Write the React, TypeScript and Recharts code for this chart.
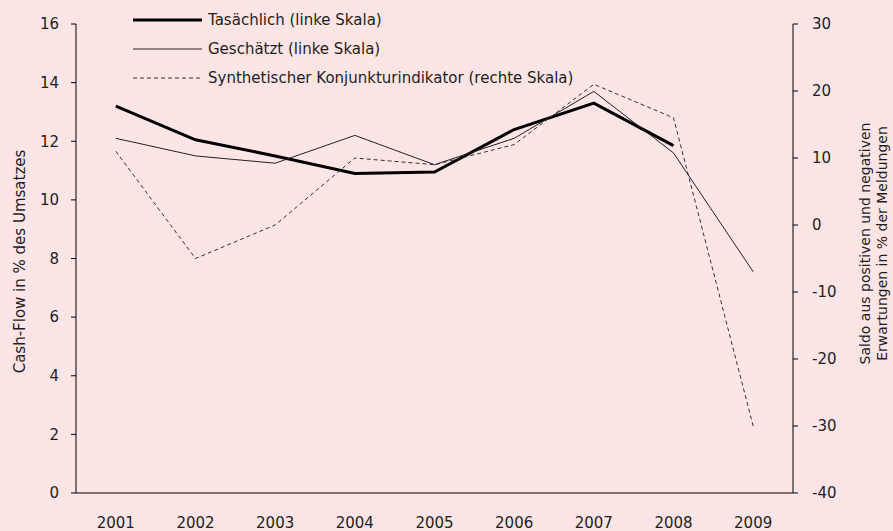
import React from 'react';
import { LineChart, Line, XAxis, YAxis, Legend, Label } from 'recharts';

const years = ['2001', '2002', '2003', '2004', '2005', '2006', '2007', '2008', '2009'];
const actual = [13.2, 12.05, 11.5, 10.9, 10.95, 12.4, 13.3, 11.85, null];
const estimated = [12.1, 11.5, 11.25, 12.2, 11.2, 12.1, 13.7, 11.6, 7.55];
const indicator = [11, -5, 0, 10, 9, 12, 21, 16, -30];

const leftTicks = [0, 2, 4, 6, 8, 10, 12, 14, 16];
const rightTicks = [-40, -30, -20, -10, 0, 10, 20, 30];

const seriesNames: Record<string, string> = {
    actual: 'Tasächlich (linke Skala)',
    estimated: 'Geschätzt (linke Skala)',
    indicator: 'Synthetischer Konjunkturindikator (rechte Skala)',
};

const data = years.map((year, i) => ({
    x: i + 1,
    year,
    actual: actual[i],
    estimated: estimated[i],
    indicator: indicator[i],
}));

// year labels at band centers, tick marks at band edges
const yearTicks = years.map((_, i) => i + 1);
const edgeTicks = [0.5, ...years.map((_, i) => i + 1.5)];

const FONT = '"DejaVu Sans", sans-serif';
const BG = '#fde4e5';
const TEXT = '#1e1e1e';

const lineStyles: Record<string, { width: number; dash?: string; color: string }> = {
    actual: { width: 3, color: '#000' },
    estimated: { width: 1, color: '#222' },
    indicator: { width: 1, dash: '4 3', color: '#333' },
};

function AxisTitle(props: any) {
    const { viewBox, lines, offsets, shiftY = 0, size = 15 } = props;
    const cy = viewBox.y + viewBox.height / 2 + shiftY;
    return (
        <g>
            {lines.map((t: string, i: number) => {
                const cx = viewBox.x + offsets[i];
                return (
                    <text
                        key={t}
                        x={cx}
                        y={cy}
                        transform={`rotate(-90, ${cx}, ${cy})`}
                        textAnchor="middle"
                        dominantBaseline="central"
                        fontSize={size}
                        fill={TEXT}
                        stroke="none"
                        fontFamily={FONT}
                    >
                        {t}
                    </text>
                );
            })}
        </g>
    );
}

function LegendBox() {
    return (
        <div style={{ fontFamily: FONT, fontSize: 15, color: TEXT }}>
            {Object.keys(seriesNames).map((key) => {
                const s = lineStyles[key];
                return (
                    <div key={key} style={{ display: 'flex', alignItems: 'center', height: 29 }}>
                        <svg width={69} height={10} style={{ marginRight: 6 }}>
                            <line x1={0} y1={5} x2={69} y2={5} stroke={s.color} strokeWidth={s.width} strokeDasharray={s.dash} />
                        </svg>
                        <span style={{ whiteSpace: 'nowrap' }}>{seriesNames[key]}</span>
                    </div>
                );
            })}
        </div>
    );
}

export default function App() {
    return (
        <div style={{ position: 'absolute', left: 0, top: 0, width: 893, height: 531, background: BG, fontFamily: FONT }}>
            <LineChart width={893} height={531} data={data} margin={{ top: 24, right: 0, bottom: 0, left: 0 }}>
                <XAxis
                    xAxisId="edges"
                    dataKey="x"
                    type="number"
                    domain={[0.5, 9.5]}
                    ticks={edgeTicks}
                    interval={0}
                    height={0}
                    tick={false}
                    tickSize={5}
                    axisLine={false}
                    stroke="#000"
                />
                <XAxis
                    xAxisId="main"
                    dataKey="x"
                    type="number"
                    domain={[0.5, 9.5]}
                    ticks={yearTicks}
                    interval={0}
                    height={38}
                    tickLine={false}
                    tickSize={0}
                    tickMargin={24}
                    tickFormatter={(v: number) => years[v - 1]}
                    tick={{ fill: TEXT, fontSize: 15, fontFamily: FONT, stroke: 'none' }}
                    stroke="#000"
                />
                <YAxis
                    yAxisId="left"
                    domain={[0, 16]}
                    ticks={leftTicks}
                    width={76}
                    tickSize={5}
                    tickMargin={12}
                    stroke="#000"
                    tick={{ fill: TEXT, fontSize: 15, fontFamily: FONT, stroke: 'none' }}
                >
                    <Label content={<AxisTitle lines={['Cash-Flow in % des Umsatzes']} offsets={[20]} shiftY={3} />} />
                </YAxis>
                <YAxis
                    yAxisId="right"
                    orientation="right"
                    domain={[-40, 30]}
                    ticks={rightTicks}
                    width={100}
                    tickSize={5}
                    tickMargin={14}
                    stroke="#000"
                    tick={{ fill: TEXT, fontSize: 15, fontFamily: FONT, stroke: 'none' }}
                >
                    <Label
                        content={
                            <AxisTitle
                                lines={['Saldo aus positiven und negativen', 'Erwartungen in % der Meldungen']}
                                offsets={[72, 89]}
                                shiftY={-15}
                                size={14}
                            />
                        }
                    />
                </YAxis>
                <Legend
                    layout="vertical"
                    align="center"
                    verticalAlign="middle"
                    content={<LegendBox />}
                    wrapperStyle={{ left: 133, top: 5, width: 520, height: 90 }}
                />
                <Line
                    xAxisId="main"
                    yAxisId="left"
                    dataKey="actual"
                    name={seriesNames.actual}
                    stroke={lineStyles.actual.color}
                    strokeWidth={lineStyles.actual.width}
                    dot={false}
                    activeDot={false}
                    isAnimationActive={false}
                />
                <Line
                    xAxisId="main"
                    yAxisId="left"
                    dataKey="estimated"
                    name={seriesNames.estimated}
                    stroke={lineStyles.estimated.color}
                    strokeWidth={lineStyles.estimated.width}
                    dot={false}
                    activeDot={false}
                    isAnimationActive={false}
                />
                <Line
                    xAxisId="main"
                    yAxisId="right"
                    dataKey="indicator"
                    name={seriesNames.indicator}
                    stroke={lineStyles.indicator.color}
                    strokeWidth={lineStyles.indicator.width}
                    strokeDasharray={lineStyles.indicator.dash}
                    dot={false}
                    activeDot={false}
                    isAnimationActive={false}
                />
            </LineChart>
        </div>
    );
}
